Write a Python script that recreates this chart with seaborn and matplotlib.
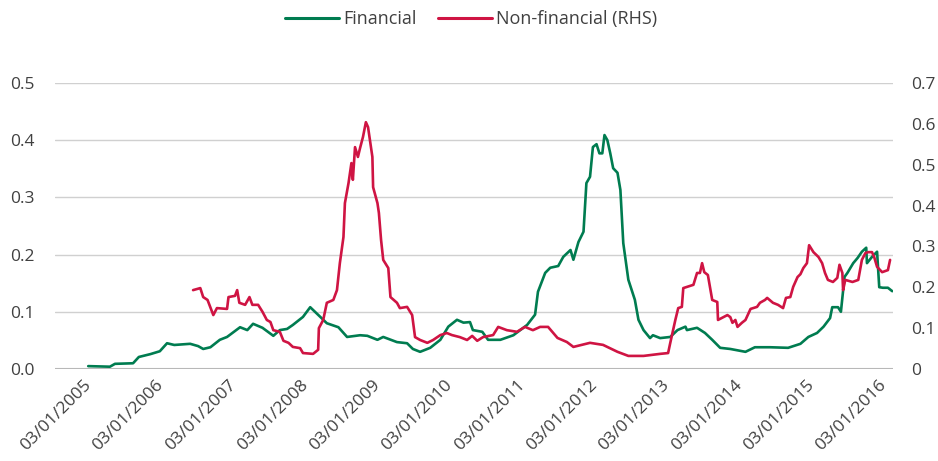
import numpy as np
import pandas as pd
import matplotlib
matplotlib.use('Agg')
import matplotlib.pyplot as plt
from matplotlib.lines import Line2D
import seaborn as sns

# values (decimal years, series values)
fin_years = [2005.07, 2005.37, 2005.44, 2005.69, 2005.77, 2005.93, 2006.06, 2006.16, 2006.26, 2006.48,
             2006.59, 2006.66, 2006.76, 2006.89, 2006.99, 2007.17, 2007.27, 2007.35, 2007.48, 2007.63,
             2007.72, 2007.82, 2007.90, 2008.04, 2008.14, 2008.28, 2008.37, 2008.53, 2008.65, 2008.83,
             2008.93, 2009.07, 2009.15, 2009.34, 2009.48, 2009.56, 2009.66, 2009.80, 2009.94, 2010.05,
             2010.17, 2010.26, 2010.35, 2010.39, 2010.52, 2010.60, 2010.77, 2010.95, 2011.14, 2011.25,
             2011.29, 2011.39, 2011.46, 2011.57, 2011.64, 2011.74, 2011.78, 2011.85, 2011.92, 2011.96,
             2012.01, 2012.05, 2012.10, 2012.14, 2012.18, 2012.21, 2012.25, 2012.29, 2012.33, 2012.39,
             2012.43, 2012.47, 2012.54, 2012.63, 2012.68, 2012.75, 2012.84, 2012.88, 2012.98, 2013.12,
             2013.22, 2013.33, 2013.35, 2013.49, 2013.60, 2013.70, 2013.81, 2013.95, 2014.16, 2014.29,
             2014.50, 2014.75, 2014.92, 2015.03, 2015.15, 2015.24, 2015.33, 2015.36, 2015.44, 2015.48,
             2015.53, 2015.57, 2015.65, 2015.71, 2015.77, 2015.83, 2015.84, 2015.91, 2015.98, 2016.01,
             2016.06, 2016.13, 2016.19]
fin_values = [0.005, 0.004, 0.009, 0.010, 0.021, 0.026, 0.031, 0.045, 0.042, 0.044,
              0.040, 0.035, 0.038, 0.051, 0.056, 0.073, 0.068, 0.079, 0.072, 0.058,
              0.068, 0.070, 0.077, 0.091, 0.108, 0.091, 0.080, 0.073, 0.056, 0.059,
              0.058, 0.051, 0.056, 0.047, 0.045, 0.035, 0.030, 0.037, 0.051, 0.074,
              0.086, 0.081, 0.082, 0.068, 0.065, 0.051, 0.051, 0.059, 0.077, 0.095,
              0.135, 0.168, 0.177, 0.180, 0.196, 0.208, 0.191, 0.222, 0.240, 0.325,
              0.336, 0.388, 0.393, 0.377, 0.377, 0.409, 0.400, 0.377, 0.351, 0.343,
              0.313, 0.220, 0.156, 0.121, 0.086, 0.068, 0.054, 0.059, 0.054, 0.056,
              0.068, 0.074, 0.068, 0.072, 0.063, 0.051, 0.037, 0.035, 0.030, 0.038,
              0.038, 0.037, 0.044, 0.056, 0.063, 0.074, 0.089, 0.108, 0.108, 0.100,
              0.161, 0.168, 0.185, 0.194, 0.205, 0.212, 0.185, 0.196, 0.205, 0.143,
              0.142, 0.142, 0.136]

nonfin_years = [2006.52, 2006.62, 2006.66, 2006.72, 2006.80, 2006.85, 2006.99, 2007.01, 2007.10, 2007.13,
                2007.16, 2007.24, 2007.30, 2007.34, 2007.42, 2007.48, 2007.54, 2007.59, 2007.63, 2007.72,
                2007.77, 2007.84, 2007.90, 2008.00, 2008.04, 2008.18, 2008.25, 2008.26, 2008.32, 2008.37,
                2008.46, 2008.51, 2008.55, 2008.60, 2008.62, 2008.67, 2008.71, 2008.73, 2008.76, 2008.80,
                2008.83, 2008.87, 2008.91, 2008.94, 2009.00, 2009.01, 2009.07, 2009.09, 2009.12, 2009.15,
                2009.22, 2009.25, 2009.34, 2009.38, 2009.48, 2009.55, 2009.59, 2009.66, 2009.76, 2009.84,
                2009.94, 2010.03, 2010.10, 2010.21, 2010.31, 2010.38, 2010.45, 2010.53, 2010.67, 2010.74,
                2010.86, 2011.00, 2011.11, 2011.22, 2011.32, 2011.43, 2011.56, 2011.69, 2011.78, 2012.01,
                2012.19, 2012.39, 2012.54, 2012.75, 2012.98, 2013.09, 2013.12, 2013.19, 2013.23, 2013.28,
                2013.30, 2013.44, 2013.49, 2013.53, 2013.56, 2013.59, 2013.64, 2013.70, 2013.77, 2013.78,
                2013.91, 2013.95, 2013.98, 2014.02, 2014.05, 2014.11, 2014.16, 2014.23, 2014.32, 2014.36,
                2014.43, 2014.46, 2014.54, 2014.61, 2014.68, 2014.72, 2014.78, 2014.82, 2014.88, 2014.92,
                2014.96, 2015.01, 2015.04, 2015.10, 2015.17, 2015.22, 2015.26, 2015.30, 2015.37, 2015.43,
                2015.46, 2015.50, 2015.51, 2015.54, 2015.64, 2015.72, 2015.77, 2015.82, 2015.86, 2015.91,
                2015.94, 2015.98, 2016.05, 2016.13, 2016.16]
nonfin_values = [0.193, 0.198, 0.176, 0.169, 0.132, 0.149, 0.147, 0.176, 0.179, 0.193,
                 0.162, 0.157, 0.176, 0.157, 0.157, 0.140, 0.120, 0.115, 0.095, 0.091,
                 0.069, 0.064, 0.054, 0.051, 0.039, 0.037, 0.047, 0.100, 0.120, 0.162,
                 0.169, 0.193, 0.259, 0.323, 0.406, 0.455, 0.504, 0.463, 0.543, 0.519,
                 0.541, 0.568, 0.604, 0.592, 0.519, 0.445, 0.406, 0.382, 0.316, 0.267,
                 0.247, 0.176, 0.162, 0.149, 0.152, 0.132, 0.078, 0.071, 0.064, 0.071,
                 0.083, 0.088, 0.083, 0.078, 0.071, 0.081, 0.069, 0.078, 0.083, 0.103,
                 0.095, 0.091, 0.103, 0.095, 0.103, 0.103, 0.076, 0.066, 0.054, 0.064,
                 0.059, 0.042, 0.032, 0.032, 0.037, 0.039, 0.064, 0.120, 0.149, 0.152,
                 0.198, 0.206, 0.235, 0.235, 0.259, 0.237, 0.230, 0.169, 0.164, 0.120,
                 0.132, 0.127, 0.113, 0.120, 0.103, 0.113, 0.120, 0.147, 0.152, 0.162,
                 0.169, 0.174, 0.162, 0.157, 0.149, 0.174, 0.176, 0.201, 0.225, 0.232,
                 0.247, 0.259, 0.303, 0.286, 0.274, 0.259, 0.235, 0.218, 0.213, 0.223,
                 0.255, 0.235, 0.193, 0.218, 0.213, 0.218, 0.267, 0.284, 0.286, 0.286,
                 0.274, 0.250, 0.237, 0.242, 0.267]

left_ticks = [0.0, 0.1, 0.2, 0.3, 0.4, 0.5]
right_ticks = [0, 0.1, 0.2, 0.3, 0.4, 0.5, 0.6, 0.7]
tick_years = list(range(2005, 2017))

green = '#007c50'
red = '#cf1443'
text_col = '#404040'


def to_dates(years):
    base = pd.Timestamp('2005-01-03')
    return base + pd.to_timedelta((np.array(years) - 2005) * 365.25, unit='D')


fin = pd.DataFrame({'date': to_dates(fin_years), 'value': fin_values})
nonfin = pd.DataFrame({'date': to_dates(nonfin_years), 'value': nonfin_values})

sns.set_style('white')
plt.rcParams['font.family'] = ['Open Sans', 'DejaVu Sans']

fig = plt.figure(figsize=(9.38, 4.61), dpi=100)
ax = fig.add_axes([0.0586, 0.1996, 0.8934, 0.6204])
ax2 = ax.twinx()

sns.lineplot(data=fin, x='date', y='value', ax=ax, color=green, linewidth=1.9)
sns.lineplot(data=nonfin, x='date', y='value', ax=ax2, color=red, linewidth=1.9)

ax.set_ylim(0, 0.5)
ax2.set_ylim(0, 0.7)
ax.set_xlim(to_dates([2004.61])[0], to_dates([2016.20])[0])

ax.set_yticks(left_ticks)
ax.set_yticklabels([f'{t:.1f}' for t in left_ticks])
ax2.set_yticks(right_ticks)
ax2.set_yticklabels([f'{t:g}' for t in right_ticks])

ticks = [pd.Timestamp(f'{y}-01-03') for y in tick_years]
ax.set_xticks(ticks)
ax.set_xticklabels([t.strftime('%d/%m/%Y') for t in ticks], rotation=45,
                   ha='right', rotation_mode='anchor')

ax.yaxis.grid(True, color='#d0d0d0', linewidth=1.0)
ax.set_axisbelow(True)
ax.axhline(0, color='#b8b8b8', linewidth=1.5, zorder=1)

for a in (ax, ax2):
    for s in a.spines.values():
        s.set_visible(False)
    a.set_xlabel('')
    a.set_ylabel('')
    a.tick_params(length=0, labelsize=12.5, colors=text_col)
ax.tick_params(axis='y', pad=15)
ax2.tick_params(axis='y', pad=13)
ax.tick_params(axis='x', pad=6)

handles = [Line2D([], [], color=green, linewidth=2.2),
           Line2D([], [], color=red, linewidth=2.2)]
fig.legend(handles, ['Financial', 'Non-financial (RHS)'], loc='center',
           bbox_to_anchor=(0.502, 0.958), ncol=2, frameon=False,
           fontsize=13, labelcolor=text_col, handlelength=3.0,
           handletextpad=0.2, columnspacing=1.2)

fig.savefig('out.png', dpi=100)
